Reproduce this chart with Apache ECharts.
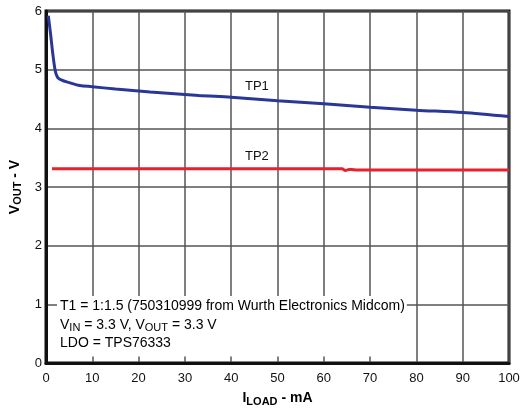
<!DOCTYPE html>
<html>
<head>
<meta charset="utf-8">
<script src="https://cdn.jsdelivr.net/npm/echarts@6/dist/echarts.min.js"></script>
<style>
  html, body { margin: 0; padding: 0; background: #fff; }
  #chart { width: 523px; height: 408px; }
</style>
</head>
<body>
<div id="chart"></div>
<script>
// load current (mA) vs output voltage (V)
const tp1Load = [0.5, 1.0, 1.5, 2.0, 2.5, 3.4, 5, 7.3, 10, 15, 22.5, 33, 40, 50, 60, 70, 80, 90, 100];
const tp1Vout = [5.92, 5.6, 5.25, 4.98, 4.87, 4.82, 4.78, 4.73, 4.71, 4.67, 4.62, 4.56, 4.53, 4.47, 4.42, 4.36, 4.31, 4.27, 4.2];

const tp2Load = [1.3, 10, 30, 50, 64, 64.6, 65, 65.5, 66, 67, 80, 100];
const tp2Vout = [3.31, 3.31, 3.31, 3.31, 3.31, 3.28, 3.28, 3.30, 3.30, 3.29, 3.29, 3.29];

const xTicks = [0, 10, 20, 30, 40, 50, 60, 70, 80, 90, 100];
const yTicks = [0, 1, 2, 3, 4, 5, 6];

const pair = (xs, ys) => xs.map((x, i) => [x, ys[i]]);

const chart = echarts.init(document.getElementById('chart'));
const font = 'Liberation Sans, Arial, sans-serif';

const nameRich = {
    b: { fontFamily: font, fontSize: 14, fontWeight: 'bold', color: '#000' },
    s: { fontFamily: font, fontSize: 11, fontWeight: 'bold', color: '#000', padding: [7, 0, 0, 0] }
};

const option = {
    animation: false,
    grid: {
        left: 46, right: 14, top: 11, bottom: 45,
        outerBoundsMode: 'none', containLabel: false,
        show: true, borderColor: '#111', borderWidth: 3, backgroundColor: 'transparent'
    },
    xAxis: {
        type: 'value',
        min: xTicks[0], max: xTicks[xTicks.length - 1], interval: 10,
        name: '{b|I}{s|LOAD}{b| - mA}',
        nameLocation: 'middle',
        nameGap: 26,
        nameTextStyle: { rich: nameRich },
        axisLine: { show: true, lineStyle: { color: '#111', width: 3 } },
        axisTick: { show: false },
        axisLabel: { color: '#111', fontFamily: font, fontSize: 13, margin: 9 },
        splitLine: { show: true, lineStyle: { color: '#555', width: 1.5, type: 'solid' } }
    },
    yAxis: {
        type: 'value',
        min: yTicks[0], max: yTicks[yTicks.length - 1], interval: 1,
        name: '{b|V}{s|OUT}{b| - V}',
        nameLocation: 'middle',
        nameGap: 17,
        nameTextStyle: { rich: nameRich },
        axisLine: { show: true, lineStyle: { color: '#111', width: 3 } },
        axisTick: { show: false },
        axisLabel: { color: '#111', fontFamily: font, fontSize: 13, margin: 4 },
        splitLine: { show: true, lineStyle: { color: '#555', width: 1.5, type: 'solid' } }
    },
    series: [
        {
            name: 'TP1', type: 'line', data: pair(tp1Load, tp1Vout),
            showSymbol: false, smooth: 0.3,
            lineStyle: { color: '#2b3797', width: 3 }
        },
        {
            name: 'TP2', type: 'line', data: pair(tp2Load, tp2Vout),
            showSymbol: false,
            lineStyle: { color: '#e8212b', width: 3 }
        }
    ],
    graphic: [
        { type: 'text', left: 245, top: 80, style: { text: 'TP1', fontFamily: font, fontSize: 13, fill: '#111' }, z: 20 },
        { type: 'text', left: 245, top: 150, style: { text: 'TP2', fontFamily: font, fontSize: 13, fill: '#111' }, z: 20 },
        {
            type: 'text', left: 57, top: 296, z: 20,
            style: {
                text: '{t|T1 = 1:1.5 (750310999 from Wurth Electronics Midcom)}\n{t|V}{s|IN}{t| = 3.3 V, V}{s|OUT}{t| = 3.3 V}\n{t|LDO = TPS76333}',
                backgroundColor: '#fff',
                padding: [1, 2, 4, 3],
                rich: {
                    t: { fontFamily: font, fontSize: 14, color: '#111', lineHeight: 18.5 },
                    s: { fontFamily: font, fontSize: 11, color: '#111', lineHeight: 18.5, padding: [7, 0, 0, 0] }
                }
            }
        }
    ]
};
chart.setOption(option);
</script>
</body>
</html>
